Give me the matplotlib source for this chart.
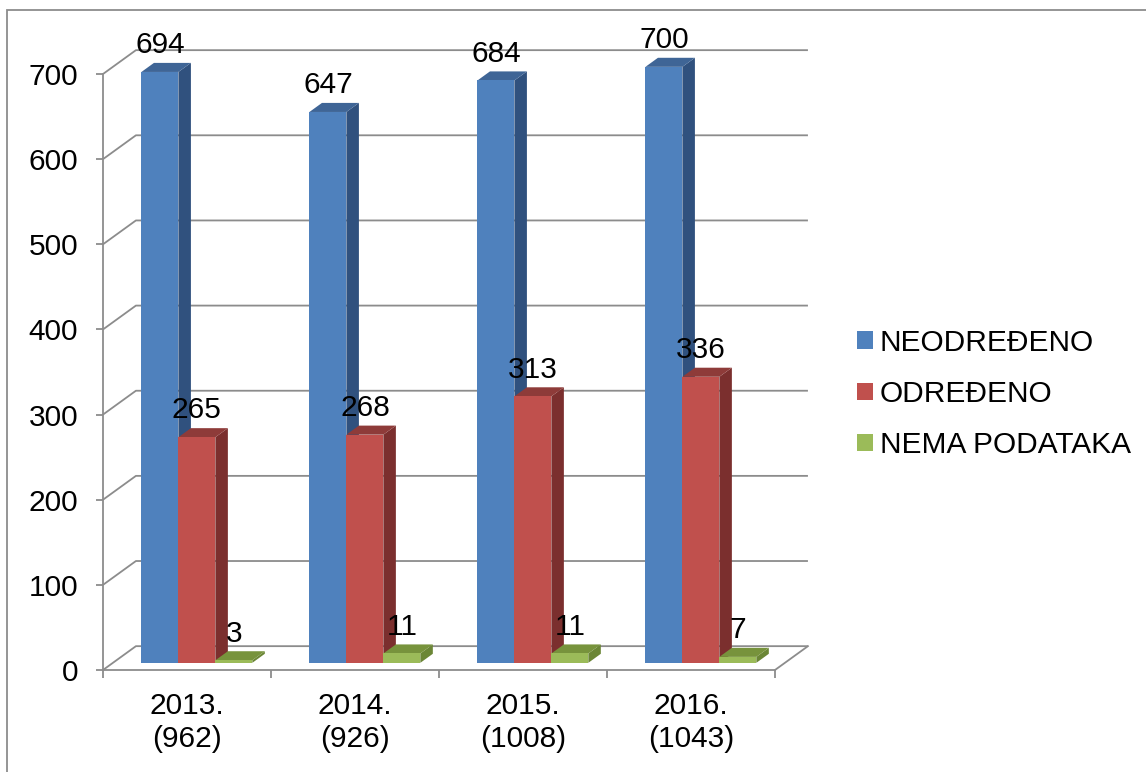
import matplotlib.pyplot as plt
from matplotlib.patches import Polygon, Rectangle, Patch

plt.rcParams['font.family'] = ['Liberation Sans', 'DejaVu Sans']

# podaci
years = ["2013.\n(962)", "2014.\n(926)", "2015.\n(1008)", "2016.\n(1043)"]
series = ["NEODREĐENO", "ODREĐENO", "NEMA PODATAKA"]
neodredeno = [694, 647, 684, 700]
odredeno = [265, 268, 313, 336]
nema = [3, 11, 11, 7]
values = [neodredeno, odredeno, nema]
yticks = [0, 100, 200, 300, 400, 500, 600, 700]

# boje: prednja strana, vrh, bok
front_c = ["#4F81BD", "#C0504D", "#9BBB59"]
top_c = ["#3F6596", "#8E3B39", "#77933C"]
side_c = ["#30517E", "#7B2F2E", "#6B8636"]
GRID = "#8C8C8C"

# 3D "dubina" u jedinicama podataka
DX = 0.196
DY = 28.0
F0, F1 = 0.30, 0.68
BW = 0.22
GAP = 0.17
FS = 21.5

fig = plt.figure(figsize=(11.46, 7.72), dpi=100)
ax = fig.add_axes([103 / 1146, 102 / 772, 672 / 1146, 596 / 772])
ax.set_xlim(0, 4)
ax.set_ylim(0, 700)
ax.patch.set_visible(False)

# okvir slike
fig.patches.append(Rectangle((7 / 1146, -0.1), 1.2, 0.1 + 762 / 772, transform=fig.transFigure,
                             fill=False, edgecolor=GRID, lw=1.3))

for s in ["top", "right"]:
    ax.spines[s].set_visible(False)
for s in ["left", "bottom"]:
    ax.spines[s].set_color(GRID)
    ax.spines[s].set_linewidth(1.3)

# zidovi i mreža
n = len(years)
for v in yticks:
    ax.plot([0, DX, n + DX], [v, v + DY, v + DY], color=GRID, lw=1.3,
            clip_on=False, zorder=1, solid_capstyle='butt')
ax.plot([n, n + DX], [0, DY], color=GRID, lw=1.3, clip_on=False, zorder=1)

# stupci
ddx = (F1 - F0) * DX
ddy = (F1 - F0) * DY
for i in range(n):
    for j in range(len(series)):
        v = values[j][i]
        x0 = i + GAP + j * BW + F0 * DX
        y0 = F0 * DY
        side = [(x0 + BW, y0), (x0 + BW + ddx, y0 + ddy),
                (x0 + BW + ddx, y0 + v + ddy), (x0 + BW, y0 + v)]
        top = [(x0, y0 + v), (x0 + BW, y0 + v),
               (x0 + BW + ddx, y0 + v + ddy), (x0 + ddx, y0 + v + ddy)]
        ax.add_patch(Polygon(side, closed=True, fc=side_c[j], ec='none',
                             clip_on=False, zorder=3))
        ax.add_patch(Polygon(top, closed=True, fc=top_c[j], ec='none',
                             clip_on=False, zorder=3))
        ax.add_patch(Rectangle((x0, y0), BW, v, fc=front_c[j], ec='none',
                               clip_on=False, zorder=3))
        ax.annotate(str(v), (x0 + BW / 2, y0 + v + ddy), xytext=(0, 7),
                    textcoords='offset points', ha='center', va='baseline',
                    fontsize=FS, zorder=5, annotation_clip=False)

# osi
ax.set_yticks(yticks)
ax.set_yticklabels([str(t) for t in yticks])
ax.tick_params(axis='y', direction='out', length=5, width=1.3, color=GRID,
               labelsize=FS, pad=13)
ax.set_xticks(range(n + 1))
ax.set_xticklabels([])
ax.set_xticks([i + 0.5 for i in range(n)], minor=True)
ax.set_xticklabels(years, minor=True, fontsize=FS)
ax.tick_params(axis='x', which='major', direction='out', length=6, width=1.3, color=GRID)
ax.tick_params(axis='x', which='minor', length=0, pad=16)

handles = [Patch(facecolor=c, edgecolor='none') for c in front_c]
fig.legend(handles, series, loc='center left', bbox_to_anchor=(857 / 1146, 1 - 394 / 772),
           frameon=False, fontsize=FS, handlelength=0.52, handleheight=0.52,
           handletextpad=0.25, labelspacing=0.78, borderaxespad=0, borderpad=0)

fig.savefig("out.png", dpi=100)
